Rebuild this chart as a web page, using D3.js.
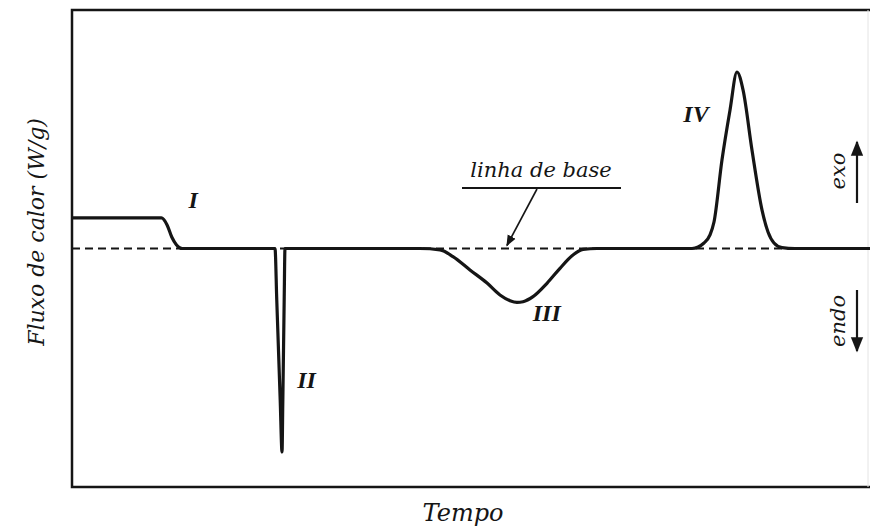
<!DOCTYPE html>
<html>
<head>
<meta charset="utf-8">
<script src="https://cdn.jsdelivr.net/npm/d3@7"></script>
<style>
  body { margin: 0; background: #fff; }
  svg { display: block; }
</style>
</head>
<body>
<div id="chart"></div>
<script>
var w = 870;
var h = 528;

// curve: time (0-100) and heat flow (baseline = 0)
var time = [0, 11.2, 11.9, 12.5, 13.1, 13.8, 25.44, 25.66, 26.09, 26.32, 26.42, 26.59, 26.69,
  43.6, 46.12, 47.74, 49.87, 52.01, 53.63, 54.89, 55.76, 56.52, 57.77, 59.52, 61.15, 62.78, 64.04, 65.79,
  77.69, 79.2, 79.95, 80.45, 81.45, 82.46, 83.33, 84.09, 85.21, 86.47, 87.22, 87.97, 88.97, 90.6, 100];
var flow = [0.128, 0.128, 0.1, 0.048, 0.015, 0, 0, -0.216, -0.635, -0.853, -0.635, -0.216, 0,
  0, -0.006, -0.034, -0.09, -0.145, -0.195, -0.219, -0.226, -0.223, -0.202, -0.146, -0.083, -0.027, -0.004, 0,
  0, 0.023, 0.057, 0.111, 0.371, 0.581, 0.74, 0.665, 0.413, 0.161, 0.069, 0.023, 0.004, 0, 0];

var peakLabels = ["I", "II", "III", "IV"];
var labelTime = [15.2, 29.4, 59.5, 78.2];
var labelFlow = [0.17, -0.585, -0.304, 0.53];

var xScale = d3.scaleLinear().domain([0, 100]).range([72, 870]);
var yScale = d3.scaleLinear().domain([-1, 1]).range([487, 10]);

var svg = d3.select("#chart").append("svg").attr("width", w).attr("height", h);
var ink = "#151515";
var serif = "'DejaVu Serif', serif";

// frame
svg.append("path")
  .attr("d", "M870,10 H72 V487 H870")
  .attr("fill", "none")
  .attr("stroke", ink)
  .attr("stroke-width", 2.5);
svg.append("line")
  .attr("x1", 868).attr("x2", 868).attr("y1", 10).attr("y2", 487)
  .attr("stroke", "#e4e4e4").attr("stroke-width", 1);

// dashed baseline
svg.append("line")
  .attr("x1", xScale(0)).attr("x2", xScale(100))
  .attr("y1", yScale(0)).attr("y2", yScale(0))
  .attr("stroke", ink)
  .attr("stroke-width", 2)
  .attr("stroke-dasharray", "8,5");

// DSC curve
var line = d3.line()
  .x(function (d, i) { return xScale(time[i]); })
  .y(function (d) { return yScale(d); })
  .curve(d3.curveMonotoneX);

svg.append("path")
  .datum(flow)
  .attr("d", line)
  .attr("fill", "none")
  .attr("stroke", ink)
  .attr("stroke-width", 3.2)
  .attr("stroke-linejoin", "round");

// peak labels
svg.selectAll("text.peak")
  .data(peakLabels)
  .enter()
  .append("text")
  .attr("class", "peak")
  .text(function (d) { return d; })
  .attr("x", function (d, i) { return xScale(labelTime[i]); })
  .attr("y", function (d, i) { return yScale(labelFlow[i]); })
  .attr("text-anchor", "middle")
  .attr("font-family", "'Liberation Serif', serif")
  .attr("font-style", "italic")
  .attr("font-weight", "bold")
  .attr("font-size", "24px")
  .attr("fill", ink);

// "linha de base" annotation
svg.append("defs").append("marker")
  .attr("id", "head")
  .attr("viewBox", "0 0 10 10")
  .attr("refX", 9).attr("refY", 5)
  .attr("markerWidth", 7).attr("markerHeight", 7)
  .attr("orient", "auto")
  .append("path")
  .attr("d", "M0,1 L10,5 L0,9 Z")
  .attr("fill", ink);

svg.append("text")
  .text("linha de base")
  .attr("x", 541).attr("y", 177)
  .attr("text-anchor", "middle")
  .attr("font-family", serif)
  .attr("font-style", "italic")
  .attr("font-size", "21px")
  .attr("fill", ink);
svg.append("line")
  .attr("x1", 462).attr("x2", 621).attr("y1", 188).attr("y2", 188)
  .attr("stroke", ink).attr("stroke-width", 2);
svg.append("line")
  .attr("x1", 537).attr("y1", 189)
  .attr("x2", xScale(54.5)).attr("y2", yScale(0) - 3)
  .attr("stroke", ink).attr("stroke-width", 1.6)
  .attr("marker-end", "url(#head)");

// exo / endo
function sideLabel(txt, cy) {
  svg.append("text")
    .text(txt)
    .attr("transform", "translate(845," + cy + ") rotate(-90)")
    .attr("text-anchor", "middle")
    .attr("font-family", serif)
    .attr("font-style", "italic")
    .attr("font-size", "21px")
    .attr("fill", ink);
}
sideLabel("exo", 171);
sideLabel("endo", 321);

svg.append("line")
  .attr("x1", 857).attr("x2", 857).attr("y1", 203).attr("y2", 142)
  .attr("stroke", ink).attr("stroke-width", 2.2)
  .attr("marker-end", "url(#head)");
svg.append("line")
  .attr("x1", 857).attr("x2", 857).attr("y1", 290).attr("y2", 351)
  .attr("stroke", ink).attr("stroke-width", 2.2)
  .attr("marker-end", "url(#head)");

// axis titles
svg.append("text")
  .text("Tempo")
  .attr("x", 463).attr("y", 521)
  .attr("text-anchor", "middle")
  .attr("font-family", serif)
  .attr("font-style", "italic")
  .attr("font-size", "24px")
  .attr("fill", ink);

svg.append("text")
  .text("Fluxo de calor (W/g)")
  .attr("transform", "translate(44,232) rotate(-90)")
  .attr("text-anchor", "middle")
  .attr("font-family", serif)
  .attr("font-style", "italic")
  .attr("font-size", "22px")
  .attr("fill", ink);
</script>
</body>
</html>
